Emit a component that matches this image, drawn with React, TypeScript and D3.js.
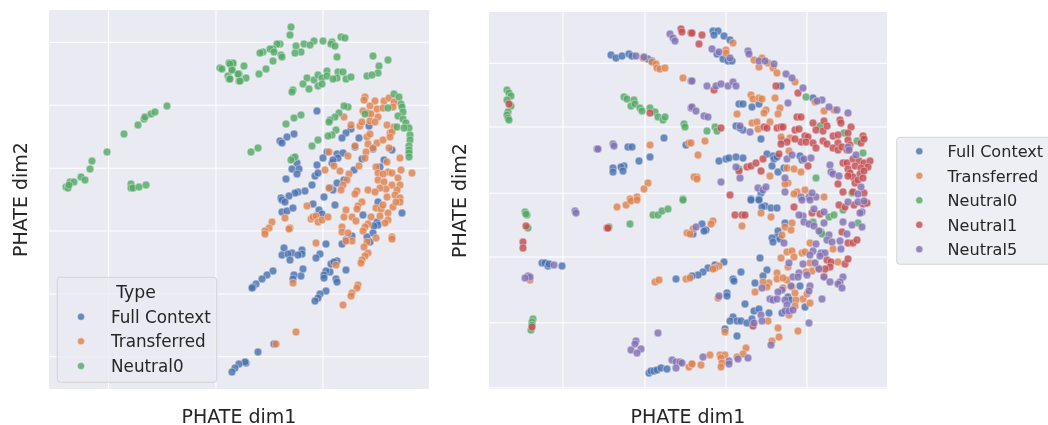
import React from 'react';
import * as d3 from 'd3';

// values, PHATE axes carry no tick labels so units are arbitrary
type Pt = [number, number];

const leftFull: Pt[] = [[268,278],[302,260],[297,256],[293,251],[310,251],[320,263],[245,255],[238,252],[231,248],[233,246],[248,226],[243,220],[250,220],[248,215],[237,210],[263,204],[256,198],[249,197],[246,196],[240,193],[232,191],[275,192],[278,237],[274,231],[268,224],[266,213],[269,216],[283,226],[288,235],[294,236],[289,231],[284,229],[305,219],[313,230],[331,222],[335,229],[343,239],[324,240],[306,242],[288,206],[284,199],[281,201],[295,209],
  [233,189],[236,187],[233,177],[238,178],[244,181],[264,185],[270,179],[273,175],[286,184],[314,174],[353,176],[329,187],[328,167],[329,164],[325,163],[324,156],[318,152],[321,147],[303,153],[297,149],[293,145],[277,145],[235,141],[253,139],[243,136],[233,134],[239,135],[253,135],[249,134],[241,129],[271,135],[267,131],[282,125],[288,128],[285,127],[281,117],[277,118],[275,114],[275,111],[254,120],[252,113],[245,114],[244,110],[297,119],[287,110],[288,107],[224,118],[218,114],[213,110],[207,105],[204,102],[203,101],[277,98],[271,95],[269,91],[266,88],[225,45],[209,37],[197,26],[196,27],[190,25],[186,21],[183,17]];

const leftTransferred: Pt[] = [[316,292],[315,289],[326,288],[321,283],[335,288],[340,291],[345,287],[314,278],[319,276],[328,280],[334,281],[344,282],[322,275],[329,272],[295,272],[302,264],[311,263],[313,267],[321,268],[326,267],[338,264],[345,262],[341,256],[343,257],[341,252],[318,252],[321,255],[319,245],[328,246],[334,249],[324,241],[317,237],[306,243],[340,241],[351,231],[299,233],[280,237],[285,223],[291,218],[276,219],[300,215],[310,223],[316,231],[327,222],[338,227],[339,217],[329,216],[334,215],[343,216],[352,219],[363,216],[349,211],[329,209],[335,207],[343,204],[351,204],[348,199],[337,200],[331,201],[326,197],[319,199],[308,198],[306,195],[298,209],[294,204],[292,199],[280,201],[338,192],[346,194],[351,191],
  [313,187],[309,183],[327,181],[332,180],[334,184],[344,182],[351,187],[347,187],[339,176],[258,183],[297,179],[308,180],[295,172],[303,172],[307,168],[322,172],[331,173],[339,169],[336,166],[319,165],[316,162],[314,158],[293,162],[293,157],[299,156],[303,148],[297,148],[318,147],[327,151],[343,152],[343,150],[315,142],[319,136],[316,133],[313,129],[312,126],[262,170],[264,172],[267,173],[269,167],[273,169],[279,172],[236,171],[223,167],[220,161],[216,158],[216,155],[241,161],[240,160],[267,146],[287,124],[244,106],[309,104],[308,101],[303,96],[302,93],[294,84],[247,57],[227,45]];

const leftNeutral0: Pt[] = [[17,202],[19,201],[21,207],[25,207],[20,204],[32,212],[36,209],[41,220],[43,228],[58,237],[75,255],[89,264],[95,270],[96,272],[102,275],[106,277],[118,283],[82,205],[82,201],[84,201],[90,202],[97,204],[171,321],[173,320],[180,326],[184,325],[183,319],[179,313],[180,310],[190,315],[190,308],
  [242,362],[241,354],[292,352],[296,351],[274,348],[265,348],[255,345],[261,344],[247,343],[231,345],[228,345],[224,340],[221,340],[225,337],[214,337],[211,336],[252,337],[246,336],[232,334],[233,332],[283,347],[282,345],[286,343],[288,332],[324,333],[339,329],[330,323],[329,316],[224,328],[217,320],[210,315],[195,323],[184,326],[181,325],[183,319],[189,315],[197,311],[191,308],[181,310],
  [258,311],[265,309],[269,314],[273,311],[278,318],[278,313],[289,317],[294,317],[288,311],[284,310],[297,310],[302,312],[318,313],[323,314],[254,305],[260,300],[269,303],[273,305],[244,299],[243,297],[299,282],[295,283],[290,276],[286,272],[281,269],[280,267],[252,274],[245,271],[237,265],[287,259],[283,254],[279,253],[269,249],[263,243],[209,241],[202,237],[244,231],[246,232],[242,229],[345,295],[350,292],[352,285],[353,282],[354,277],[349,273],[354,270],[357,266],[360,261],[361,254],[361,249],[360,243],[360,239],[360,236],[360,232],[348,262],[355,261],[339,281],[316,275]];

const rightFull: Pt[] = [[122,334],[127,331],[133,333],[140,335],[143,333],[159,330],[163,328],[139,242],[143,242],[175,251],[161,232],[150,228],[135,223],[132,222],[124,221],[124,217],[134,218],[197,244],
  [224,358],[229,358],[225,354],[235,353],[241,349],[228,335],[234,330],[239,328],[243,328],[292,303],[250,285],[254,285],[263,282],[270,285],[324,291],[247,263],[254,259],[251,261],[272,250],[293,249],[230,228],[237,230],[240,231],[247,232],[254,231],[278,235],[284,233],[285,230],[288,232],[283,223],[289,217],[311,233],[313,229],[295,221],[272,196],[262,190],[270,190],
  [53,126],[56,126],[59,123],[60,125],[73,123],[187,110],[160,16],[162,18],[165,18],[168,19],[172,21],[178,20],
  [262,189],[270,189],[276,183],[273,182],[282,181],[288,181],[296,166],[289,158],[288,152],[283,151],[284,147],[291,150],[271,131],[213,165],[217,159],[215,158],[204,155],[235,127],[226,124],[219,121],[214,117],[209,114],[203,113],[252,117],[244,110],[245,108],[278,119],[274,113],[266,106],[238,96],[238,93],[256,85],[265,78],[270,80],[280,76],[293,76],[316,82],[244,72],[241,68],[248,68],[252,68],[258,66],[263,70],[236,60],[248,53],[311,103],[299,92],[301,89]];

const rightTransferred: Pt[] = [[154,331],[163,327],[167,325],[168,321],[171,320],[176,321],[194,311],[161,244],[200,246],[159,206],[155,200],[148,192],[141,190],
  [244,346],[237,339],[237,336],[265,329],[273,331],[270,322],[279,326],[284,321],[288,316],[306,307],[262,294],[264,290],[270,291],[273,290],[286,291],[277,279],[275,276],[291,281],[289,275],[248,275],[335,278],[345,279],[326,287],[263,266],[268,267],[281,267],[269,260],[202,246],[216,248],[209,234],[292,252],[301,251],[300,238],[298,221],[305,220],[312,217],[281,213],[208,212],[205,212],[208,210],[299,206],[296,205],[308,197],[305,195],[316,199],[335,192],
  [128,182],[137,184],[142,188],[148,189],[198,156],[166,107],[170,109],[197,110],[41,109],[200,22],[203,25],
  [224,168],[222,165],[204,160],[201,155],[253,163],[272,176],[282,172],[303,166],[296,162],[302,159],[293,154],[321,146],[344,140],[230,123],[226,121],[224,120],[201,111],[229,91],[266,97],[280,106],[278,102],[288,116],[288,110],[298,109],[294,111],[274,107],[303,102],[294,101],[292,131],[298,137],[303,138],[305,132],[299,122],[313,136],[316,137],[321,126],[323,118],[317,117],[329,121],[335,113],[349,127],[309,58],[289,61],[290,52],[283,48],[321,86],[314,90],[318,95],[307,89],[306,83],[300,74],[279,68],[236,57],[257,41],[254,35],[221,34],[212,24],[203,25],[231,34],[236,34],[232,31],[233,26],[232,22],[248,32],[306,96]];

const rightNeutral0: Pt[] = [[18,299],[20,296],[22,293],[18,289],[22,283],[19,277],[18,274],[19,271],[20,269],[135,292],[138,290],[145,289],[142,283],[146,285],[151,281],[153,278],[161,281],[166,277],[169,272],[174,269],[176,272],[195,265],[196,262],[194,190],
  [317,292],[218,258],[226,262],[228,258],[355,256],[368,248],[374,236],[331,263],[327,211],[250,220],[363,196],
  [36,177],[38,174],[37,175],[141,165],[164,174],[169,174],[173,178],[179,180],[194,189],[39,161],[120,162],[44,70],[43,67],[43,64],[42,59],
  [340,172],[345,174],[369,166],[332,157],[333,155],[354,179],[324,167]];

const rightNeutral1: Pt[] = [[20,285],[192,360],[193,357],[202,356],[161,276],[203,356],[213,354],[210,345],[287,303],[309,296],[225,299],[308,272],[312,272],[232,261],
  [275,262],[278,261],[288,261],[292,262],[294,262],[306,259],[310,260],[324,266],[335,268],[327,259],[334,258],[338,263],[351,269],[352,266],[362,262],[359,256],[344,253],[349,254],[374,253],[316,253],[319,252],[312,247],[306,250],[317,247],[324,246],[334,248],[338,245],[327,241],[349,246],[344,241],[349,239],[353,242],[359,249],[361,244],[372,246],[375,250],[298,247],[292,245],[358,239],[360,241],
  [354,226],[358,226],[364,230],[370,228],[375,226],[381,228],[379,222],[366,223],[372,221],[359,220],[361,216],[364,212],[371,215],[375,218],[359,213],[366,206],[369,209],[374,211],[349,205],[354,197],[375,196],[364,197],
  [250,218],[258,222],[262,223],[267,226],[274,230],[290,235],[272,218],[319,223],[241,194],
  [37,163],[34,147],[34,141],[118,161],[119,161],[43,62],
  [246,174],[253,174],[256,174],[305,182],[350,184],[356,182],[365,184],[374,185],[378,186],[323,176],[331,175],[353,157],[359,146],[364,146],[368,149],[338,129],[342,127],[341,122],[336,120],[356,125],[359,130],[264,63]];

const rightNeutral5: Pt[] = [[147,333],[155,332],[181,355],[184,351],[186,348],[202,308],[202,281],[108,240],[109,240],[124,245],[125,243],
  [223,340],[230,337],[241,331],[259,338],[260,335],[270,328],[276,328],[285,325],[297,315],[303,311],[314,301],[203,308],[218,303],[227,303],[232,305],[239,303],[244,307],[247,303],[299,286],[333,289],[328,288],[340,282],[348,279],[359,276],[203,282],[207,278],[215,273],[219,272],[251,263],[261,257],[359,242],[367,234],[360,239],[372,202],[369,195],[341,224],[342,217],[344,215],[350,213],[247,222],[251,211],[232,207],[298,230],[303,234],[315,230],[322,231],[296,211],[269,201],[274,199],[277,202],[296,197],[312,192],[320,192],[327,192],[323,196],
  [86,178],[87,176],[65,124],[39,113],[41,112],[36,111],[169,56],[147,48],[146,45],[152,40],[142,39],[148,36],[183,29],[187,27],[191,27],[193,26],[187,21],
  [314,173],[310,174],[325,180],[335,177],[315,167],[320,165],[325,163],[335,166],[354,167],[363,164],[373,162],[373,177],[371,176],[330,158],[340,154],[338,149],[343,147],[358,155],[351,148],[352,140],[327,145],[324,138],[321,134],[332,136],[336,136],[331,133],[295,146],[300,126],[314,125],[326,126],[330,120],[310,116],[304,112],[309,112],[318,114],[335,112],[341,107],[354,112],[351,107],[349,105],[353,101],[273,101],[293,99],[289,97],[302,103],[321,103],[320,98],[281,90],[284,89],[288,90],[296,89],[298,84],[296,78],[300,78],[304,79],[333,90],[230,93],[272,74],[273,68],[265,66],[320,66],[282,44],[259,31],[249,30],[240,28],[240,25],[214,32],[207,162],[313,189],[321,189],[359,187],[369,187],[375,188]];

const leftXTicks = [59.5, 167, 274];
const leftYTicks = [32.3, 95, 158, 220.7, 283.7, 346.7];
const rightXTicks = [74, 156, 237, 318];
const rightYTicks = [1.3, 66.3, 132, 195.7, 262, 325.7];

const leftLegend = ['Full Context', 'Transferred', 'Neutral0'];
const rightLegend = ['Full Context', 'Transferred', 'Neutral0', 'Neutral1', 'Neutral5'];
const palette = ['#4c72b0', '#dd8452', '#55a868', '#c44e52', '#8172b3'];

const textColor = '#262626';
const fontFamily = 'DejaVu Sans';

interface PanelProps {
  x0: number;
  x1: number;
  y0: number;
  y1: number;
  xMax: number;
  yMax: number;
  xTicks: number[];
  yTicks: number[];
  series: Pt[][];
  xLabel: string;
  yLabel: string;
  yLabelX: number;
}

const Panel = (props: PanelProps) => {
  const { x0, x1, y0, y1, xMax, yMax, xTicks, yTicks, series } = props;
  const xScale = d3.scaleLinear().domain([0, xMax]).range([x0, x1]);
  const yScale = d3.scaleLinear().domain([0, yMax]).range([y1, y0]);

  return (
    <g>
      <rect x={x0} y={y0} width={x1 - x0} height={y1 - y0} fill="#eaeaf2" />
      {xTicks.map(t => (
        <line key={t} x1={xScale(t)} x2={xScale(t)} y1={y0} y2={y1} stroke="#fff" strokeWidth={1.1} />
      ))}
      {yTicks.map(t => (
        <line key={t} x1={x0} x2={x1} y1={yScale(t)} y2={yScale(t)} stroke="#fff" strokeWidth={1.1} />
      ))}
      {series.map((pts, i) => (
        <g key={i} fill={palette[i]} fillOpacity={0.82} stroke="#fff" strokeOpacity={0.55} strokeWidth={0.7}>
          {pts.map((d, j) => (
            <circle key={j} cx={xScale(d[0])} cy={yScale(d[1])} r={3.9} />
          ))}
        </g>
      ))}
      <text x={(x0 + x1) / 2} y={423} textAnchor="middle" fontSize={19} fill={textColor}>{props.xLabel}</text>
      <text
        transform={`translate(${props.yLabelX}, ${(y0 + y1) / 2}) rotate(-90)`}
        textAnchor="middle"
        fontSize={19}
        fill={textColor}
      >
        {props.yLabel}
      </text>
    </g>
  );
};

const Legend = ({ x, y, width, height, title, labels, markerX, textX, rowY, fontSize }: any) => (
  <g>
    <rect x={x} y={y} width={width} height={height} rx={3} fill="#eaeaf2" fillOpacity={0.8} stroke="#cccccc" strokeOpacity={0.8} />
    {title && <text x={x + width / 2 - 1} y={y + 21} textAnchor="middle" fontSize={fontSize + 0.5} fill={textColor}>{title}</text>}
    {labels.map((l: string, i: number) => (
      <g key={l}>
        <circle cx={markerX} cy={rowY(i)} r={3.5} fill={palette[i]} fillOpacity={0.82} stroke="#fff" strokeOpacity={0.55} strokeWidth={0.6} />
        <text x={textX} y={rowY(i)} dy="0.36em" fontSize={fontSize} fill={textColor}>{l}</text>
      </g>
    ))}
  </g>
);

const App = () => {
  const leftRows = d3.scalePoint<number>().domain([0, 1, 2]).range([316.7, 366]);
  const rightRows = d3.scalePoint<number>().domain([0, 1, 2, 3, 4]).range([151.3, 249.3]);

  return (
    <svg width={1048} height={425} style={{ position: 'absolute', left: 0, top: 0, filter: 'blur(0.35px)' }} fontFamily={fontFamily}>
      <rect width={1048} height={425} fill="#fff" />
      <Panel
        x0={49} x1={429} y0={10} y1={389}
        xMax={380} yMax={379}
        xTicks={leftXTicks} yTicks={leftYTicks}
        series={[leftFull, leftTransferred, leftNeutral0]}
        xLabel="PHATE dim1" yLabel="PHATE dim2" yLabelX={27}
      />
      <Panel
        x0={489} x1={887} y0={12} y1={389}
        xMax={398} yMax={377}
        xTicks={rightXTicks} yTicks={rightYTicks}
        series={[rightFull, rightTransferred, rightNeutral0, rightNeutral1, rightNeutral5]}
        xLabel="PHATE dim1" yLabel="PHATE dim2" yLabelX={466}
      />
      <Legend
        x={57.3} y={277.3} width={159.4} height={105}
        title="Type" labels={leftLegend} fontSize={16.8}
        markerX={81} textX={111} rowY={leftRows}
      />
      <Legend
        x={896.7} y={137.3} width={170} height={127}
        labels={rightLegend} fontSize={16.1}
        markerX={919.3} textX={947.5} rowY={rightRows}
      />
    </svg>
  );
};

export default App;
